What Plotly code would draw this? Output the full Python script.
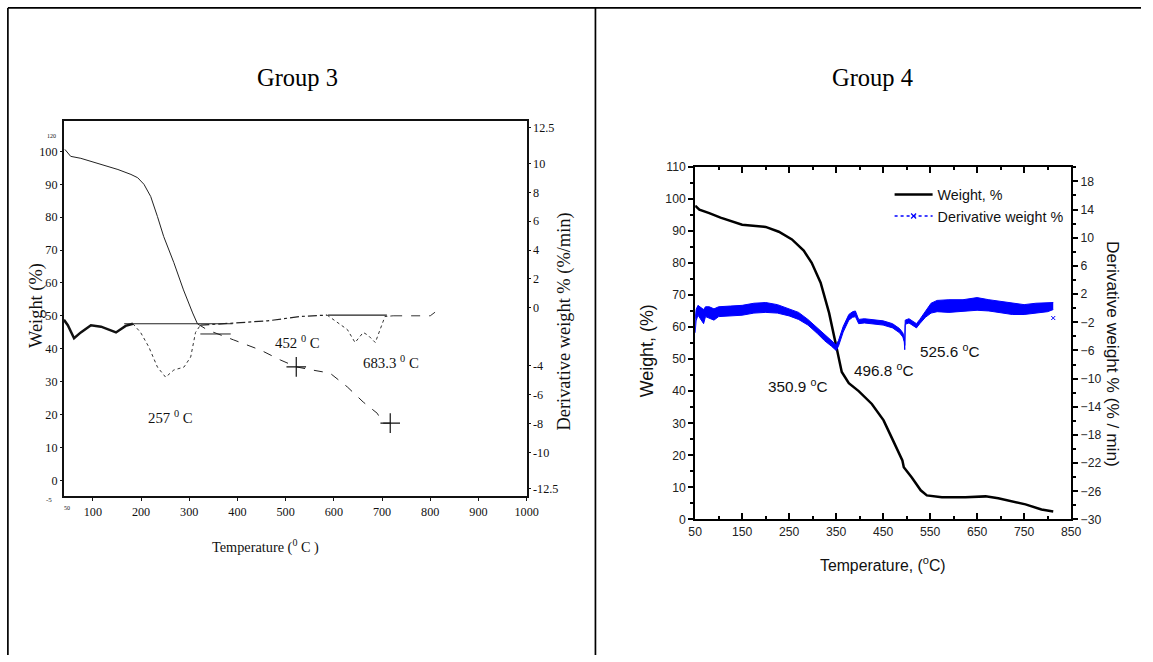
import plotly.graph_objects as go
import numpy as np

# The photographed page shows the figure inside an 8px body margin and is scaled to the window;
# map reference pixel positions to figure fractions accordingly.
W, H = 1153, 662
OFF = 8
SX, SY = 1153 / 1169, 662 / 678
XSHIFT = 2

# ---------------- Group 3 data ----------------
g3_weight_T = [42, 54, 75, 117, 152, 179, 193, 206, 220, 234, 247, 268, 288, 307, 317]
g3_weight_W = [100.6, 98.5, 97.9, 96.0, 94.5, 93.0, 92.0, 90.0, 86.3, 80.2, 74.1, 66.2, 57.9, 50.9, 47.6]
g3_weight2_T = [317, 338, 392, 448, 489, 516, 522, 557, 592, 628, 661, 690, 702, 717]
g3_weight2_W = [47.6, 45.7, 42.7, 39.6, 36.6, 35.0, 34.5, 33.5, 32.6, 28.4, 23.8, 20.4, 17.4, 17.4]
g3_cross_T = [522, 717]
g3_cross_W = [34.5, 17.4]

g3_deriv_T = [40, 48, 61, 75, 96, 117, 148, 168, 183]
g3_deriv_D = [-0.83, -1.2, -2.1, -1.7, -1.2, -1.3, -1.7, -1.25, -1.1]
g3_dip1_T = [183, 199, 216, 234, 251, 268, 289, 303, 313, 323]
g3_dip1_D = [-1.1, -1.7, -2.7, -4.1, -4.8, -4.3, -4.1, -3.4, -1.7, -1.2]
g3_mid_T = [323, 392, 462, 530, 586]
g3_mid_D = [-1.2, -1.05, -0.9, -0.6, -0.5]
g3_dip2_T = [586, 599, 628, 644, 661, 671, 686, 696, 706, 723]
g3_dip2_D = [-0.5, -0.8, -1.5, -2.4, -1.7, -1.9, -2.4, -1.5, -0.6, -0.55]
g3_tail_T = [723, 800, 810]
g3_tail_D = [-0.55, -0.55, -0.3]

g3_base1_T = [165, 390]
g3_base1_D = [-1.1, -1.1]
g3_base2_T = [588, 710]
g3_base2_D = [-0.5, -0.5]
g3_wtan_T = [323, 386]
g3_wtan_W = [44.5, 44.5]

g3_x_ticks = [100, 200, 300, 400, 500, 600, 700, 800, 900, 1000]
g3_yl_ticks = [0, 10, 20, 30, 40, 50, 60, 70, 80, 90, 100]
g3_yr_ticks = [12.5, 10, 8, 6, 4, 2, 0, -4, -6, -8, -10, -12.5]

# ---------------- Group 4 data ----------------
g4_weight_T = [50, 59, 80, 104, 150, 200, 228, 256, 281, 298, 317, 335, 352, 362, 377, 398, 426,
               451, 468, 487, 491, 494, 511, 530, 543, 575, 625, 668, 695, 753, 787, 812]
g4_weight_W = [97.8, 96.6, 95.5, 94.1, 91.9, 91.2, 89.7, 87.3, 83.8, 80.0, 73.8, 64.4, 52.8, 46.0,
               42.5, 40.0, 36.0, 30.9, 25.6, 20.0, 18.4, 16.3, 13.1, 9.1, 7.5, 6.9, 6.9, 7.2, 6.6,
               4.7, 3.1, 2.5]

g4_deriv_T = [50, 52, 56, 62, 68, 72, 80, 90, 100, 125, 150, 175, 200, 225, 250, 270, 290, 310,
              325, 340, 350, 355, 365, 377, 385, 391, 395, 398, 410, 430, 450, 470, 485, 492, 495,
              496, 497, 505, 515, 521, 528, 540, 552, 565, 590, 620, 650, 675, 700, 725, 750, 775,
              800, 812]
g4_deriv_D = [-2.5, -1.0, -0.3, -0.8, -1.2, -0.5, -0.6, -0.9, -0.5, -0.4, -0.3, 0.0, 0.1, -0.1,
              -0.6, -1.1, -2.0, -3.2, -4.2, -5.0, -5.6, -5.0, -3.0, -1.3, -0.9, -0.8, -1.6, -1.9,
              -1.8, -1.9, -2.1, -2.5, -3.2, -3.8, -4.5, -5.6, -2.0, -1.8, -2.2, -2.5, -1.9, -0.9,
              0.0, 0.3, 0.3, 0.4, 0.6, 0.4, 0.2, -0.1, -0.2, 0.0, 0.1, 0.3]
g4_deriv_spread = [1.0, 0.8, 0.7, 0.9, 1.0, 0.7, 0.8, 0.8, 0.7, 0.7, 0.7, 0.7, 0.7, 0.6,
                   0.5, 0.5, 0.4, 0.4, 0.4, 0.4, 0.4, 0.4, 0.4, 0.4, 0.4, 0.4, 0.3, 0.3,
                   0.3, 0.3, 0.3, 0.3, 0.3, 0.3, 0.3, 0.3, 0.3, 0.3, 0.3, 0.3, 0.3, 0.4,
                   0.7, 0.8, 0.9, 0.8, 0.9, 0.8, 0.8, 0.8, 0.7, 0.7, 0.6, 0.5]
g4_stray_T = [812]
g4_stray_D = [-1.4]

g4_yr_ticks = [-30, -26, -22, -18, -14, -10, -6, -2, 2, 6, 10, 14, 18]

# ---------------- figure ----------------
fig = go.Figure()
serif = "Liberation Serif"
sans = "Liberation Sans, Arial"


def fs(s):
    return round(s * 1.02, 1)


# Group 3 traces
fig.add_trace(go.Scatter(x=g3_weight_T, y=g3_weight_W, mode="lines", xaxis="x", yaxis="y",
                         line=dict(color="#222", width=1), showlegend=False))
fig.add_trace(go.Scatter(x=g3_weight2_T, y=g3_weight2_W, mode="lines", xaxis="x", yaxis="y",
                         line=dict(color="#222", width=1, dash="dash"), showlegend=False))
fig.add_trace(go.Scatter(x=g3_wtan_T, y=g3_wtan_W, mode="lines", xaxis="x", yaxis="y",
                         line=dict(color="#222", width=1), showlegend=False))
fig.add_trace(go.Scatter(x=g3_cross_T, y=g3_cross_W, mode="markers", xaxis="x", yaxis="y",
                         marker=dict(symbol="cross-thin", size=14, line=dict(color="#111", width=1.2)),
                         showlegend=False))
fig.add_trace(go.Scatter(x=g3_deriv_T, y=g3_deriv_D, mode="lines", xaxis="x", yaxis="y2",
                         line=dict(color="#111", width=2.5), showlegend=False))
fig.add_trace(go.Scatter(x=g3_dip1_T, y=g3_dip1_D, mode="lines", xaxis="x", yaxis="y2",
                         line=dict(color="#333", width=1, dash="dot"), showlegend=False))
fig.add_trace(go.Scatter(x=g3_mid_T, y=g3_mid_D, mode="lines", xaxis="x", yaxis="y2",
                         line=dict(color="#222", width=1.2, dash="dashdot"), showlegend=False))
fig.add_trace(go.Scatter(x=g3_dip2_T, y=g3_dip2_D, mode="lines", xaxis="x", yaxis="y2",
                         line=dict(color="#333", width=1, dash="dot"), showlegend=False))
fig.add_trace(go.Scatter(x=g3_tail_T, y=g3_tail_D, mode="lines", xaxis="x", yaxis="y2",
                         line=dict(color="#333", width=1, dash="dash"), showlegend=False))
fig.add_trace(go.Scatter(x=g3_base1_T, y=g3_base1_D, mode="lines", xaxis="x", yaxis="y2",
                         line=dict(color="#222", width=1.2), showlegend=False))
fig.add_trace(go.Scatter(x=g3_base2_T, y=g3_base2_D, mode="lines", xaxis="x", yaxis="y2",
                         line=dict(color="#222", width=1.2), showlegend=False))

# Group 4 traces
d_c = np.array(g4_deriv_D)
d_s = np.array(g4_deriv_spread)
fig.add_trace(go.Scatter(x=g4_deriv_T, y=d_c + d_s, mode="lines", xaxis="x2", yaxis="y4",
                         line=dict(color="blue", width=1), showlegend=False))
fig.add_trace(go.Scatter(x=g4_deriv_T, y=d_c - d_s, mode="lines", xaxis="x2", yaxis="y4",
                         line=dict(color="blue", width=1), fill="tonexty", fillcolor="blue",
                         showlegend=False))
fig.add_trace(go.Scatter(x=g4_stray_T, y=g4_stray_D, mode="markers", xaxis="x2", yaxis="y4",
                         marker=dict(symbol="x-thin", size=4, line=dict(color="blue", width=1)),
                         showlegend=False))
fig.add_trace(go.Scatter(x=g4_weight_T, y=g4_weight_W, mode="lines", xaxis="x2", yaxis="y3",
                         line=dict(color="black", width=2.5),
                         name="Weight, %", showlegend=True))
fig.add_trace(go.Scatter(x=[None], y=[None], mode="lines+markers", xaxis="x2", yaxis="y4",
                         line=dict(color="blue", width=1.5, dash="dot"),
                         marker=dict(symbol="x-thin", size=5, line=dict(color="blue", width=1.2)),
                         name="Derivative weight %", showlegend=True))


def px(x):
    return ((x + XSHIFT) / SX - OFF) / W


def py(y):
    return 1 - (y / SY - OFF) / H


g3_tick_font = dict(family=serif, size=fs(12), color="#111")
g4_tick_font = dict(family=sans, size=fs(12), color="#222")

layout = dict(
    width=W, height=H, autosize=False,
    margin=dict(l=0, r=0, t=0, b=0),
    paper_bgcolor="white", plot_bgcolor="rgba(0,0,0,0)",
    # Group 3
    xaxis=dict(domain=[px(63), px(527)], range=[40, 1000], anchor="y",
               tickvals=g3_x_ticks, ticks="outside", ticklen=3, tickcolor="#111",
               showline=True, linecolor="#111", linewidth=2, mirror=True,
               showgrid=False, zeroline=False, tickfont=g3_tick_font),
    yaxis=dict(domain=[py(496), py(122)], range=[-4.88, 109.1], anchor="x",
               tickvals=g3_yl_ticks, ticks="outside", ticklen=2, tickcolor="#111",
               showline=True, linecolor="#111", linewidth=2,
               showgrid=False, zeroline=False, tickfont=g3_tick_font),
    yaxis2=dict(overlaying="y", side="right", anchor="x", range=[-13.05, 12.9],
                tickvals=g3_yr_ticks, ticktext=[str(v) for v in g3_yr_ticks],
                ticks="outside", ticklen=2, tickcolor="#111",
                showline=True, linecolor="#111", linewidth=2,
                showgrid=False, zeroline=False, tickfont=g3_tick_font),
    # Group 4
    xaxis2=dict(domain=[px(696), px(1073)], range=[50, 850], anchor="y3",
                tick0=50, dtick=100, ticks="inside", ticklen=6, tickwidth=1.5, tickcolor="black",
                minor=dict(ticks="inside", ticklen=3, dtick=50, tick0=50, tickcolor="black", tickwidth=1.5),
                showline=True, linecolor="black", linewidth=2, mirror="ticks",
                showgrid=False, zeroline=False, tickfont=g4_tick_font),
    yaxis3=dict(domain=[py(519), py(167)], range=[0, 110], anchor="x2",
                tick0=0, dtick=10, ticks="outside", ticklen=5, tickwidth=1.5, tickcolor="black",
                minor=dict(ticks="outside", ticklen=3, dtick=5, tick0=0, tickcolor="black", tickwidth=1.5),
                showline=True, linecolor="black", linewidth=2,
                showgrid=False, zeroline=False, tickfont=g4_tick_font),
    yaxis4=dict(overlaying="y3", side="right", anchor="x2", range=[-30, 20.1],
                tickvals=g4_yr_ticks, ticks="outside", ticklen=5, tickwidth=1.5, tickcolor="black",
                minor=dict(ticks="outside", ticklen=3, dtick=2, tick0=-30, tickcolor="black", tickwidth=1.5),
                showline=True, linecolor="black", linewidth=2,
                showgrid=False, zeroline=False, tickfont=g4_tick_font),
    legend=dict(x=px(891), y=py(179), xanchor="left", yanchor="top", traceorder="normal",
                bgcolor="rgba(0,0,0,0)", font=dict(family=sans, size=fs(14), color="#111"),
                itemwidth=38, tracegroupgap=0),
)
fig.update_layout(**layout)

# Table borders (top/left as close to the page edge as the photographed page allows)
top_y = 1 - 0.9 / H
left_x = 0.9 / W
for sh in [
    dict(x0=left_x, x1=1, y0=top_y, y1=top_y),
    dict(x0=left_x, x1=left_x, y0=top_y, y1=0),
    dict(x0=px(596), x1=px(596), y0=top_y, y1=0),
]:
    fig.add_shape(type="line", xref="paper", yref="paper", line=dict(color="black", width=1.7), **sh)

ann = []
# Titles
ann.append(dict(x=px(297), y=py(78), text="Group 3", font=dict(family=serif, size=fs(24), color="black")))
ann.append(dict(x=px(874), y=py(78), text="Group 4", font=dict(family=serif, size=fs(24), color="black")))
# Group 3 axis titles
ann.append(dict(x=px(265), y=py(546), text="Temperature (<sup>0</sup> C )",
                font=dict(family=serif, size=fs(14), color="#111")))
ann.append(dict(x=px(36), y=py(306), text="Weight (%)", textangle=-90,
                font=dict(family=serif, size=fs(18), color="#111")))
ann.append(dict(x=px(565), y=py(322), text="Derivative weight % (%/min)", textangle=-90,
                font=dict(family=serif, size=fs(18), color="#111")))
# tiny scanned labels
ann.append(dict(x=px(51), y=py(136), text="120", font=dict(family=serif, size=6, color="#111")))
ann.append(dict(x=px(48), y=py(500), text="-5", font=dict(family=serif, size=7, color="#111")))
ann.append(dict(x=px(66), y=py(508), text="50", font=dict(family=serif, size=6, color="#111")))
# Group 4 axis titles
ann.append(dict(x=px(884), y=py(563), text="Temperature, (<sup>o</sup>C)",
                font=dict(family=sans, size=fs(15.5), color="#111")))
ann.append(dict(x=px(648), y=py(351), text="Weight, (%)", textangle=-90,
                font=dict(family=sans, size=fs(17.5), color="#111")))
ann.append(dict(x=px(1115), y=py(354), text="Derivative weight % (% / min)", textangle=90,
                font=dict(family=sans, size=fs(17), color="#111")))
for a in ann:
    a.update(xref="paper", yref="paper", showarrow=False, xanchor="center", yanchor="middle")
    fig.add_annotation(**a)

# Data-anchored peak labels
fig.add_annotation(x=261, y=19.2, xref="x", yref="y", text="257 <sup>0</sup> C", showarrow=False,
                   font=dict(family=serif, size=fs(14.5), color="#111"))
fig.add_annotation(x=524, y=42.1, xref="x", yref="y", text="452 <sup>0</sup> C", showarrow=False,
                   font=dict(family=serif, size=fs(14.5), color="#111"))
fig.add_annotation(x=719, y=36.0, xref="x", yref="y", text="683.3 <sup>0</sup> C", showarrow=False,
                   font=dict(family=serif, size=fs(14.5), color="#111"))
fig.add_annotation(x=268.5, y=41.9, xref="x2", yref="y3", text="350.9 <sup>o</sup>C", showarrow=False,
                   font=dict(family=sans, size=fs(15), color="#111"))
fig.add_annotation(x=452, y=46.6, xref="x2", yref="y3", text="496.8 <sup>o</sup>C", showarrow=False,
                   font=dict(family=sans, size=fs(15), color="#111"))
fig.add_annotation(x=593, y=52.8, xref="x2", yref="y3", text="525.6 <sup>o</sup>C", showarrow=False,
                   font=dict(family=sans, size=fs(15), color="#111"))

fig.write_html("out.html")
